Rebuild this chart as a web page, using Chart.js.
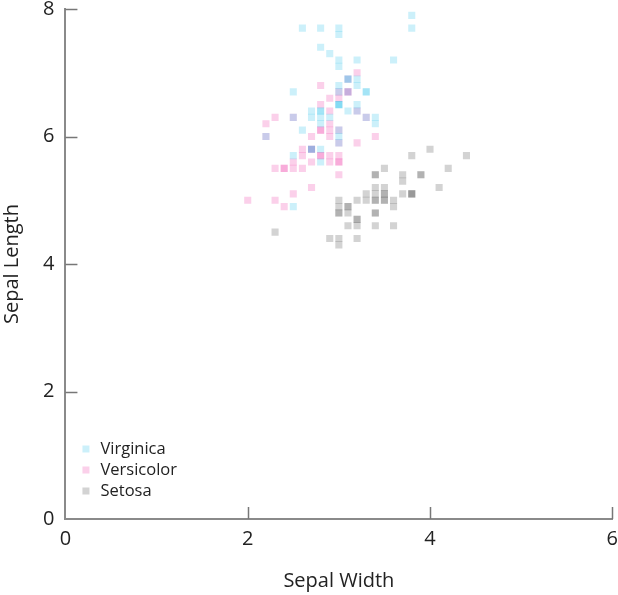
<!DOCTYPE html>
<html>
<head>
<meta charset="utf-8">
<script src="https://cdn.jsdelivr.net/npm/chart.js@4/dist/chart.umd.min.js"></script>
<style>
  html, body { margin: 0; padding: 0; background: #fff; }
  #frame { width: 618px; height: 595px; overflow: hidden; position: relative; }
  #wrap { width: 626px; height: 609px; margin-top: -14px; }
</style>
</head>
<body>
<div id="frame"><div id="wrap"><canvas id="mycanvas"></canvas></div></div>
<script>
// iris data, sepal length / sepal width per species
var setosaLength = [5.1,4.9,4.7,4.6,5.0,5.4,4.6,5.0,4.4,4.9,5.4,4.8,4.8,4.3,5.8,5.7,5.4,5.1,5.7,5.1,5.4,5.1,4.6,5.1,4.8,5.0,5.0,5.2,5.2,4.7,4.8,5.4,5.2,5.5,4.9,5.0,5.5,4.9,4.4,5.1,5.0,4.5,4.4,5.0,5.1,4.8,5.1,4.6,5.3,5.0];
var setosaWidth = [3.5,3.0,3.2,3.1,3.6,3.9,3.4,3.4,2.9,3.1,3.7,3.4,3.0,3.0,4.0,4.4,3.9,3.5,3.8,3.8,3.4,3.7,3.6,3.3,3.4,3.0,3.4,3.5,3.4,3.2,3.1,3.4,4.1,4.2,3.1,3.2,3.5,3.6,3.0,3.4,3.5,2.3,3.2,3.5,3.8,3.0,3.8,3.2,3.7,3.3];
var versicolorLength = [7.0,6.4,6.9,5.5,6.5,5.7,6.3,4.9,6.6,5.2,5.0,5.9,6.0,6.1,5.6,6.7,5.6,5.8,6.2,5.6,5.9,6.1,6.3,6.1,6.4,6.6,6.8,6.7,6.0,5.7,5.5,5.5,5.8,6.0,5.4,6.0,6.7,6.3,5.6,5.5,5.5,6.1,5.8,5.0,5.6,5.7,5.7,6.2,5.1,5.7];
var versicolorWidth = [3.2,3.2,3.1,2.3,2.8,2.8,3.3,2.4,2.9,2.7,2.0,3.0,2.2,2.9,2.9,3.1,3.0,2.7,2.2,2.5,3.2,2.8,2.5,2.8,2.9,3.0,2.8,3.0,2.9,2.6,2.4,2.4,2.7,2.7,3.0,3.4,3.1,2.3,3.0,2.5,2.6,3.0,2.6,2.3,2.7,3.0,2.9,2.9,2.5,2.8];
var virginicaLength = [6.3,5.8,7.1,6.3,6.5,7.6,4.9,7.3,6.7,7.2,6.5,6.4,6.8,5.7,5.8,6.4,6.5,7.7,7.7,6.0,6.9,5.6,7.7,6.3,6.7,7.2,6.2,6.1,6.4,7.2,7.4,7.9,6.4,6.3,6.1,7.7,6.3,6.4,6.0,6.9,6.7,6.9,5.8,6.8,6.7,6.7,6.3,6.5,6.2,5.9];
var virginicaWidth = [3.3,2.7,3.0,2.9,3.0,3.0,2.5,2.9,2.5,3.6,3.2,2.7,3.0,2.5,2.8,3.2,3.0,3.8,2.6,2.2,3.2,2.8,2.8,2.7,3.3,3.2,2.8,3.0,2.8,3.0,2.8,3.8,2.8,2.8,2.6,3.0,3.4,3.1,3.0,3.1,3.1,3.1,2.7,3.2,3.3,3.0,2.5,3.0,3.4,3.0];
var species = ['Virginica', 'Versicolor', 'Setosa'];
var xTicks = [0, 2, 4, 6];
var yTicks = [0, 2, 4, 6, 8];

var FONT = '"Open Sans", sans-serif';

function toPoints(w, l){
	var pts = [];
	for (var i in w){
		pts.push({x: w[i], y: l[i]});
	}
	return pts;
}

// tick marks drawn on the inside of the axes
var insideTicks = {
	id: 'insideTicks',
	afterDraw: function(chart){
		var ctx = chart.ctx;
		var area = chart.chartArea;
		var xs = chart.scales.x, ys = chart.scales.y;
		ctx.save();
		ctx.strokeStyle = '#777';
		ctx.lineWidth = 1.5;
		ctx.beginPath();
		xTicks.forEach(function(v){
			if (v === 0) return;
			var px = Math.round(xs.getPixelForValue(v)) + 0.5;
			ctx.moveTo(px, area.bottom);
			ctx.lineTo(px, area.bottom - 12);
		});
		yTicks.forEach(function(v){
			if (v === 0) return;
			var py = Math.round(ys.getPixelForValue(v)) + 0.5;
			ctx.moveTo(area.left, py);
			ctx.lineTo(area.left + 12, py);
		});
		ctx.stroke();
		ctx.restore();
	}
};

// legend in the lower-left of the plot
var cornerLegend = {
	id: 'cornerLegend',
	afterDraw: function(chart){
		var ctx = chart.ctx;
		var area = chart.chartArea;
		ctx.save();
		ctx.font = '16.5px ' + FONT;
		ctx.textBaseline = 'middle';
		chart.data.datasets.forEach(function(ds, i){
			var y = area.bottom - 70 + i * 21;
			ctx.fillStyle = ds.backgroundColor;
			ctx.fillRect(area.left + 17, y - 3.5, 7, 7);
			ctx.fillStyle = '#222';
			ctx.fillText(ds.label, area.left + 35, y);
		});
		ctx.restore();
	}
};

var chartdata = {
	datasets: [
		{
			label: species[0],
			data: toPoints(virginicaWidth, virginicaLength),
			backgroundColor: 'rgba(0,180,230,0.2)'
		},
		{
			label: species[1],
			data: toPoints(versicolorWidth, versicolorLength),
			backgroundColor: 'rgba(235,40,160,0.22)'
		},
		{
			label: species[2],
			data: toPoints(setosaWidth, setosaLength),
			backgroundColor: 'rgba(80,80,80,0.25)'
		}
	]
};

var ctx = document.getElementById('mycanvas');
var scatter = new Chart(ctx, {
	type: 'scatter',
	data: chartdata,
	options: {
		responsive: true,
		maintainAspectRatio: false,
		animation: false,
		layout: { padding: { left: -4, right: 0, top: -16, bottom: -2 } },
		elements: {
			point: { pointStyle: 'rect', radius: 5, hoverRadius: 5, borderWidth: 0 }
		},
		plugins: {
			legend: { display: false },
			tooltip: { enabled: false }
		},
		scales: {
			x: {
				type: 'linear',
				min: 0, max: 6,
				afterBuildTicks: function(s){ s.ticks = xTicks.map(function(v){ return {value: v}; }); },
				grid: { display: false, drawTicks: false },
				border: { display: true, color: '#8a8a8a', width: 2 },
				ticks: { color: '#222', font: { family: FONT, size: 20 }, padding: 8 },
				title: { display: true, text: 'Sepal Width', color: '#222', font: { family: FONT, size: 20 }, padding: { top: 10 } }
			},
			y: {
				type: 'linear',
				min: 0, max: 8,
				afterBuildTicks: function(s){ s.ticks = yTicks.map(function(v){ return {value: v}; }); },
				grid: { display: false, drawTicks: false },
				border: { display: true, color: '#8a8a8a', width: 2 },
				ticks: { color: '#222', font: { family: FONT, size: 20 }, padding: 11 },
				title: { display: true, text: 'Sepal Length', color: '#222', font: { family: FONT, size: 20 }, padding: { bottom: 8 } }
			}
		}
	},
	plugins: [insideTicks, cornerLegend]
});
</script>
</body>
</html>
